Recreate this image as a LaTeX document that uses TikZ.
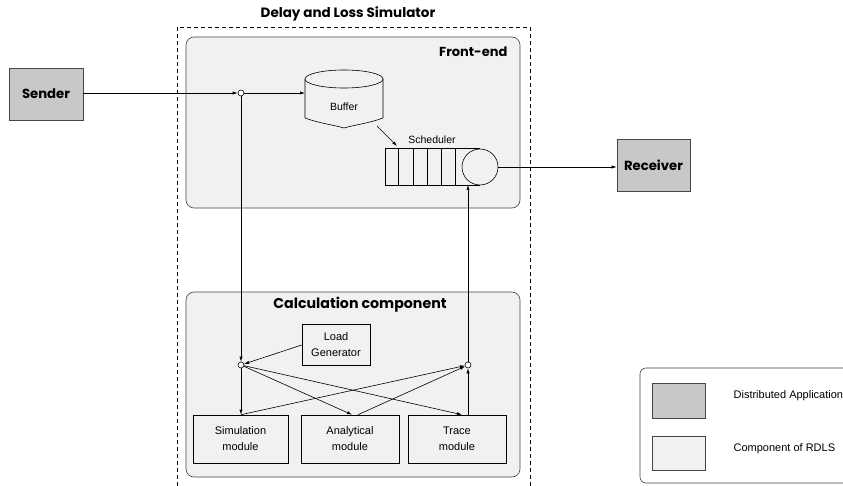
\documentclass[tikz,border=0pt]{standalone}
\usepackage{fontspec}
\setmainfont{Liberation Sans}
\newfontfamily\titlefont{Poppins}
\usetikzlibrary{arrows.meta}
\definecolor{appgray}{RGB}{200,200,200}
\definecolor{compgray}{RGB}{241,241,241}
\definecolor{edgegray}{RGB}{70,70,70}
\begin{document}
\begin{tikzpicture}[x=1pt,y=-1pt,line width=0.6pt,
  arr/.style={-{Latex[length=5pt,width=3.2pt]}},
  appbox/.style={draw=edgegray,fill=appgray,inner sep=0pt,font=\titlefont\bfseries\fontsize{13.2}{15}\selectfont},
  compbox/.style={draw=edgegray,fill=compgray,rounded corners=8pt,inner sep=0pt},
  modbox/.style={draw,fill=compgray,inner sep=0pt,align=center,font=\fontsize{11}{16}\selectfont},
  junc/.style={circle,draw,fill=white,minimum size=6pt,inner sep=0pt},
  legtext/.style={anchor=west,font=\fontsize{11}{13}\selectfont},
  title/.style={font=\titlefont\bfseries\fontsize{13.5}{15}\selectfont}
]
\clip (0,0) rectangle (843,486);
\fill[white] (0,0) rectangle (843,486);
% outer dashed simulator boundary
\draw[dash pattern=on 4pt off 3pt,line width=0.7pt] (177,27) rectangle (530,500);
\node[title] (dlstitle) at (348,14) {Delay and Loss Simulator};
% front-end
\node[compbox,minimum width=334pt,minimum height=171pt] (fe) at (353,122.5) {};
\node[title,font=\titlefont\bfseries\fontsize{13}{15}\selectfont,anchor=east] (fetitle) at (511,52) {Front-end};
% calculation component
\node[compbox,minimum width=334pt,minimum height=185pt] (calc) at (353,384.5) {};
\node[title,font=\titlefont\bfseries\fontsize{14.2}{16}\selectfont] (calctitle) at (360,305) {Calculation component};
% sender / receiver
\node[appbox,minimum width=74pt,minimum height=52pt] (sender) at (46,94) {Sender};
\node[appbox,minimum width=73pt,minimum height=52pt] (recv) at (653.5,165) {Receiver};
% buffer cylinder
\draw[fill=compgray] (305,79) -- (305,118) .. controls (318,123) and (334,125) .. (344,128)
  .. controls (354,125) and (370,123) .. (383,118) -- (383,79);
\draw[fill=compgray] (344,79) ellipse [x radius=39, y radius=9];
\node[font=\fontsize{10.5}{12}\selectfont] (buflabel) at (344,107) {Buffer};
\coordinate (bufW) at (305,93);
\coordinate (bufSE) at (377,126);
% scheduler queue
\draw (480,148) -- (385,148) -- (385,185) -- (480,185);
\foreach \xx in {398,413,427,441,455} \draw (\xx,148) -- (\xx,185);
\node[circle,draw,fill=compgray,minimum size=36pt,inner sep=0pt] (server) at (480,167) {};
\node[font=\fontsize{10.5}{12}\selectfont] (schedlabel) at (432,140) {Scheduler};
\coordinate (qin) at (397,146);
\coordinate (qbot) at (468,185);
% junctions
\node[junc] (j1) at (241,93) {};
\node[junc] (j2) at (241,365) {};
\node[junc] (j3) at (468,365) {};
% load generator and modules
\node[modbox,minimum width=68pt,minimum height=41pt] (load) at (336,345) {Load\\Generator};
\node[modbox,minimum width=95pt,minimum height=48pt] (sim) at (240.5,439) {Simulation\\module};
\node[modbox,minimum width=98pt,minimum height=48pt] (ana) at (350,439) {Analytical\\module};
\node[modbox,minimum width=98pt,minimum height=48pt] (trace) at (457,439) {Trace\\module};
% connectors
\draw[arr] (sender.east |- j1) -- (j1);
\draw[arr] (j1) -- (bufW);
\draw[arr] (bufSE) -- (qin);
\draw[arr] (server.east) -- (server.east -| recv.west);
\draw[arr] (j1) -- (j2);
\draw[arr] (j2) -- (j2 |- sim.north);
\draw[arr] (load.west) -- (j2);
\draw[arr] (j2) -- ([xshift=2pt]ana.north);
\draw[arr] (j2) -- ([xshift=5pt]trace.north);
\draw[arr] (j2 |- sim.north) -- (j3);
\draw[arr] ([xshift=8pt]ana.north) -- (j3);
\draw[arr] ([xshift=11pt]trace.north) -- (j3);
\draw[arr] (j3) -- (qbot);
% legend
\draw[draw=edgegray,rounded corners=6pt] (640,368) rectangle (880,483);
\node[draw=edgegray,fill=appgray,minimum width=53pt,minimum height=35pt,inner sep=0pt] (legapp) at (678.5,400.5) {};
\node[draw=edgegray,fill=compgray,minimum width=53pt,minimum height=34pt,inner sep=0pt] (legcomp) at (678.5,453) {};
\node[legtext] (legapptext) at (730,396) {Distributed Application};
\node[legtext] (legcomptext) at (730,449) {Component of RDLS};
\end{tikzpicture}
\end{document}
